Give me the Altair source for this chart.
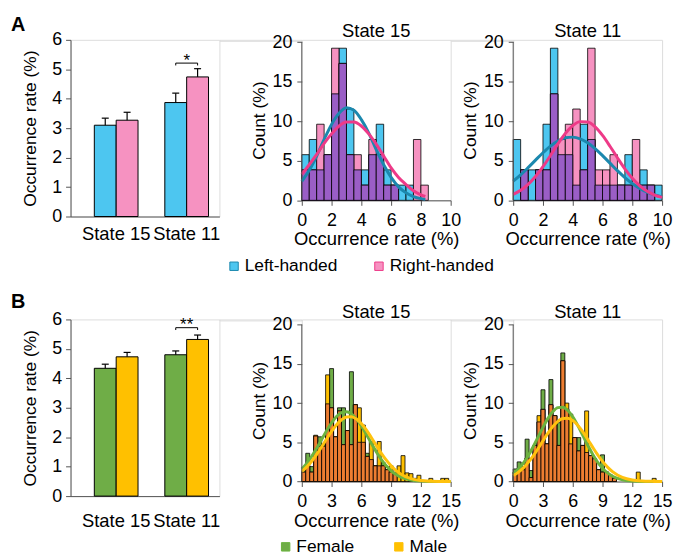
import altair as alt
import pandas as pd
import numpy as np

FONT = "Liberation Sans"

states = ["State 15", "State 11"]
hands = ["Left-handed", "Right-handed"]
sexes = ["Female", "Male"]

# ---------- bar panels ----------
A_left_mean = [3.10, 3.87]
A_left_sem = [0.24, 0.32]
A_right_mean = [3.27, 4.74]
A_right_sem = [0.27, 0.28]

B_female_mean = [4.34, 4.80]
B_female_sem = [0.14, 0.13]
B_male_mean = [4.73, 5.32]
B_male_sem = [0.15, 0.15]

sig_state = ["State 11", "State 11"]
sig_label = ["*", "**"]
sig_low = [5.13, 5.64]
sig_high = [5.21, 5.72]
sig_text_y = [5.29, 5.80]

# ---------- histograms, panel A (bin width 0.5) ----------
A_bin_w = 0.5
A15_starts = [0, 0.5, 1, 1.5, 2, 2.5, 3, 3.5, 4, 4.5, 5, 5.5, 6, 6.5, 7, 7.5, 8]
A15_left = [5.77, 7.69, 3.85, 5.77, 13.46, 19.23, 11.54, 3.85, 3.85, 5.77, 9.62, 3.85, 1.92, 1.92, 1.92, 0, 0]
A15_right = [3.85, 3.85, 9.62, 5.77, 19.23, 17.31, 5.77, 5.77, 1.92, 7.69, 5.77, 1.92, 1.92, 0, 0, 7.69, 1.92]

A11_starts = [0, 0.5, 1, 1.5, 2, 2.5, 3, 3.5, 4, 4.5, 5, 5.5, 6, 6.5, 7, 7.5, 8, 8.5, 9, 9.5]
A11_left = [7.69, 3.85, 3.85, 3.85, 9.62, 19.23, 5.77, 5.77, 1.92, 9.62, 7.69, 1.92, 1.92, 1.92, 1.92, 5.77, 1.92, 3.85, 1.92, 1.92]
A11_right = [0, 3.85, 0, 3.85, 3.85, 13.46, 7.69, 9.62, 11.54, 3.85, 19.23, 3.85, 3.85, 5.77, 1.92, 1.92, 7.69, 1.92, 1.92, 0]

A15_curve_x = [0, 0.5, 1, 1.5, 2, 2.5, 3, 3.5, 4, 4.5, 5, 5.5, 6, 6.5, 7, 7.5, 8, 8.3]
A15_curve_left = [2.4, 3.8, 5.6, 7.7, 9.6, 11.0, 11.7, 11.4, 10.2, 8.5, 6.4, 4.5, 2.9, 1.7, 0.95, 0.48, 0.22, 0.13]
A15_curve_right = [3.3, 4.5, 5.8, 7.2, 8.4, 9.4, 9.9, 9.9, 9.4, 8.4, 7.1, 5.6, 4.1, 2.9, 2.0, 1.2, 0.7, 0.5]

A11_curve_x = [0, 0.5, 1, 1.5, 2, 2.5, 3, 3.5, 4, 4.5, 5, 5.5, 6, 6.5, 7, 7.5, 8, 8.5, 9, 9.5, 10]
A11_curve_left = [2.42, 3.22, 4.13, 5.08, 6.02, 6.86, 7.50, 7.90, 7.99, 7.78, 7.27, 6.54, 5.65, 4.70, 3.75, 2.88, 2.13, 1.51, 1.03, 0.68, 0.43]
A11_curve_right = [0.75, 1.26, 2.01, 3.01, 4.25, 5.67, 7.13, 8.45, 9.44, 9.95, 9.90, 9.28, 8.20, 6.84, 5.38, 3.99, 2.79, 1.84, 1.14, 0.67, 0.37]

# ---------- histograms, panel B (bin width 0.4) ----------
B_bin_w = 0.4
B_starts = [0, 0.4, 0.8, 1.2, 1.6, 2.0, 2.4, 2.8, 3.2, 3.6, 4.0, 4.4, 4.8, 5.2, 5.6, 6.0, 6.4, 6.8, 7.2,
            7.6, 8.0, 8.4, 8.8, 9.2, 9.6, 10.0, 10.4, 10.8, 11.2, 11.6, 12.0, 12.4, 12.8, 13.2, 13.6, 14.0, 14.4]
B15_female = [1.5, 3.6, 1.9, 5.8, 5.7, 4.7, 9.9, 14.4, 5.7, 9.4, 9.4, 6.5, 14.0, 9.8, 5.0, 5.0, 3.6, 2.8, 2.0,
              2.0, 2.4, 1.5, 1.2, 1.0, 0, 0, 0, 0, 0, 0, 0, 0, 0, 0, 0, 0, 0]
B15_male = [1.2, 2.0, 1.2, 5.9, 4.5, 4.5, 13.6, 9.4, 5.7, 9.0, 4.7, 6.5, 4.7, 9.8, 9.4, 7.2, 3.2, 5.1, 2.0,
            5.1, 2.0, 1.5, 2.0, 1.2, 2.0, 3.3, 1.1, 1.0, 0.4, 0.8, 0, 0, 0.4, 0, 0, 0.4, 0.4]
B11_female = [1.6, 2.5, 1.5, 5.4, 1.4, 4.6, 7.6, 11.7, 4.8, 13.0, 8.4, 7.5, 16.4, 9.2, 4.8, 5.6, 5.6, 4.6, 3.7,
              3.3, 2.9, 1.5, 3.4, 1.2, 0.8, 0.4, 0, 0, 0, 0, 0, 0, 0, 0, 0, 0, 0]
B11_male = [1.2, 1.5, 1.9, 3.0, 0.5, 4.6, 8.4, 9.2, 4.8, 9.8, 8.4, 4.6, 15.4, 10.0, 8.6, 5.6, 3.9, 4.6, 9.0,
            3.3, 2.9, 1.5, 1.2, 1.2, 0.8, 0.4, 0, 0, 0, 0, 0, 1.2, 0, 0, 0, 0.4, 0]

B_curve_x = [0, 0.5, 1, 1.5, 2, 2.5, 3, 3.5, 4, 4.5, 5, 5.5, 6, 6.5, 7, 7.5, 8, 8.5, 9, 9.5, 10, 11, 12, 13, 14, 15]
B15_curve_female = [1.60, 2.32, 3.20, 4.23, 5.35, 6.47, 7.48, 8.29, 8.78, 8.89, 8.62, 7.99, 7.09, 6.03, 4.89, 3.80,
                    2.83, 2.01, 1.37, 0.89, 0.55, 0.19, 0.05, 0.01, 0, 0]
B15_curve_male = [1.30, 1.87, 2.59, 3.45, 4.41, 5.42, 6.39, 7.24, 7.88, 8.24, 8.27, 7.98, 7.39, 6.58, 5.62, 4.61,
                  3.63, 2.75, 2.00, 1.40, 0.94, 0.37, 0.13, 0.04, 0.01, 0]
B11_curve_female = [0.99, 1.55, 2.31, 3.26, 4.40, 5.65, 6.91, 8.05, 8.92, 9.42, 9.46, 9.05, 8.25, 7.16, 5.91, 4.65,
                    3.48, 2.48, 1.69, 1.09, 0.67, 0.22, 0.06, 0.01, 0, 0]
B11_curve_male = [0.76, 1.17, 1.71, 2.41, 3.24, 4.19, 5.19, 6.17, 7.03, 7.68, 8.04, 8.07, 7.77, 7.18, 6.35, 5.39,
                  4.39, 3.42, 2.56, 1.84, 1.27, 0.53, 0.19, 0.06, 0.02, 0]

# ---------- colours ----------
A_fill = ["#4DC6F0", "#F692C1"]
A_overlap = "#9A5EC6"
A_curve = ["#1B88AE", "#EE3A88"]
B_fill = ["#6FAD47", "#FFC000"]
B_overlap = "#ED7D31"
B_curve = ["#6CB33F", "#FFC20E"]

AXIS_GREY = "#555555"


def make_legend(lx, ly, colpad):
    return alt.Legend(orient="none", legendX=lx, legendY=ly, direction="horizontal", title=None,
                      symbolType="square", symbolSize=72, symbolStrokeColor="black",
                      symbolStrokeWidth=1, symbolOpacity=1, labelFontSize=17.5, labelFont=FONT,
                      labelColor="black", columnPadding=colpad, labelOffset=2)


def bar_panel(letter, letter_dy, groups, m1, s1, m2, s2, fills, sig_i, xlabpad):
    df = pd.DataFrame({
        "state": states + states,
        "group": [groups[0]] * 2 + [groups[1]] * 2,
        "mean": m1 + m2,
        "sem": s1 + s2,
    })
    df["top"] = df["mean"] + df["sem"]
    ytitle = "Occurrence rate (%)"
    xsc = alt.Scale(domain=states, paddingInner=0.38, paddingOuter=0.246, align=0.686)
    xax = alt.Axis(title=None, labelAngle=0, ticks=False, labelFontSize=18.5, labelPadding=xlabpad,
                   domainColor=AXIS_GREY, labelColor="black", labelFont=FONT, labelOverlap=False)
    yax = alt.Axis(values=[0, 1, 2, 3, 4, 5, 6], tickSize=5, labelFontSize=18, labelPadding=4,
                   titleFontSize=17.5, titlePadding=12, domainColor=AXIS_GREY, tickColor=AXIS_GREY,
                   grid=False, labelColor="black", titleColor="black", labelFont=FONT, titleFont=FONT,
                   titleFontWeight="normal", labelOverlap=False, title=ytitle)
    ysc = alt.Scale(domain=[0, 6], nice=False)
    fsc = alt.Scale(domain=groups, range=fills)

    layers = []
    for gi, g in enumerate(groups):
        sub = df[df["group"] == g]
        b0 = 0.5 * gi
        c = b0 + 0.25
        layers.append(alt.Chart(sub).mark_bar(stroke="black", strokeWidth=1).encode(
            x=alt.X("state:N", sort=states, scale=xsc, axis=xax, bandPosition=b0),
            x2=alt.X2("state", bandPosition=b0 + 0.5),
            y=alt.Y("mean:Q", scale=ysc, axis=yax),
            y2=alt.datum(0),
            fill=alt.Fill("group:N", scale=fsc, legend=None),
        ))
        # upper error bar
        layers.append(alt.Chart(sub).mark_rule(color="black", strokeWidth=1.2).encode(
            x=alt.X("state:N", sort=states, scale=xsc, axis=xax, bandPosition=c),
            y=alt.Y("mean:Q", scale=ysc, axis=yax), y2="top:Q"))
        # cap
        layers.append(alt.Chart(sub).mark_rule(color="black", strokeWidth=1.2).encode(
            x=alt.X("state:N", sort=states, scale=xsc, axis=xax, bandPosition=c - 0.08),
            x2=alt.X2("state", bandPosition=c + 0.08),
            y=alt.Y("top:Q", scale=ysc, axis=yax)))

    sig = pd.DataFrame({"state": [sig_state[sig_i]], "low": [sig_low[sig_i]], "high": [sig_high[sig_i]],
                        "ty": [sig_text_y[sig_i]], "label": [sig_label[sig_i]]})
    sb = alt.Chart(sig)
    layers.append(sb.mark_rule(color="black", strokeWidth=1).encode(
        x=alt.X("state:N", sort=states, scale=xsc, axis=xax, bandPosition=0.25),
        x2=alt.X2("state", bandPosition=0.75),
        y=alt.Y("high:Q", scale=ysc, axis=yax)))
    for bp in (0.25, 0.75):
        layers.append(sb.mark_rule(color="black", strokeWidth=1).encode(
            x=alt.X("state:N", sort=states, scale=xsc, axis=xax, bandPosition=bp),
            y=alt.Y("low:Q", scale=ysc, axis=yax), y2="high:Q"))
    layers.append(sb.mark_text(fontSize=17, font=FONT, baseline="middle", color="black").encode(
        x=alt.X("state:N", sort=states, scale=xsc, axis=xax),
        y=alt.Y("ty:Q", scale=ysc, axis=yax), text="label:N"))

    return alt.layer(*layers).properties(
        width=150, height=178,
        title=alt.TitleParams(letter, anchor="start", frame="group", fontSize=20, fontWeight="bold",
                              font=FONT, dx=-60, dy=letter_dy, color="black"))


def hist_panel(title, title_dy, starts, width, v1, v2, groups, fills, overlap_color, cx, c1, c2,
               curve_colors, xmax, xstep, height, ymax, legend):
    d = pd.DataFrame({"start": starts, "a": v1, "b": v2})
    d["end"] = d["start"] + width
    d["overlap"] = np.minimum(d["a"], d["b"])
    long = pd.concat([
        pd.DataFrame({"start": d["start"], "end": d["end"], "group": groups[0], "pct": d["a"]}),
        pd.DataFrame({"start": d["start"], "end": d["end"], "group": groups[1], "pct": d["b"]}),
    ])
    long = long[long["pct"] > 0]
    ov = d[d["overlap"] > 0]
    xsc = alt.Scale(domain=[0, xmax], nice=False, zero=False)
    ysc = alt.Scale(domain=[0, ymax], nice=False)
    xax = alt.Axis(values=list(range(0, xmax + 1, xstep)), title="Occurrence rate (%)", tickSize=5,
                   labelFontSize=18, titleFontSize=18.5, labelPadding=6, titlePadding=1,
                   domainColor=AXIS_GREY, tickColor=AXIS_GREY, grid=False, labelFlush=False,
                   labelOverlap=False, labelColor="black", titleColor="black", labelFont=FONT,
                   titleFont=FONT, titleFontWeight="normal", format="d")
    yax = alt.Axis(values=[0, 5, 10, 15, 20], title="Count (%)", tickSize=5, labelFontSize=18,
                   titleFontSize=17.5, labelPadding=5, titlePadding=4, domain=False,
                   tickColor=AXIS_GREY, grid=False, labelColor="black", titleColor="black",
                   labelFont=FONT, titleFont=FONT, titleFontWeight="normal", labelOverlap=False)
    bars = alt.Chart(long).mark_bar(stroke="black", strokeWidth=0.8).encode(
        x=alt.X("start:Q", scale=xsc, axis=xax),
        x2="end:Q",
        y=alt.Y("pct:Q", scale=ysc, axis=yax, stack=None),
        y2=alt.datum(0),
        fill=alt.Fill("group:N", sort=groups, scale=alt.Scale(domain=groups, range=fills), legend=legend),
    )
    ovl = alt.Chart(ov).mark_bar(stroke="black", strokeWidth=0.8, fill=overlap_color).encode(
        x=alt.X("start:Q", scale=xsc, axis=xax),
        x2="end:Q",
        y=alt.Y("overlap:Q", scale=ysc, axis=yax, stack=None),
        y2=alt.datum(0),
    )
    cdf = pd.concat([
        pd.DataFrame({"x": cx, "y": c1, "group": groups[0]}),
        pd.DataFrame({"x": cx, "y": c2, "group": groups[1]}),
    ])
    curves = alt.Chart(cdf).mark_line(interpolate="monotone", strokeWidth=3).encode(
        x=alt.X("x:Q", scale=xsc, axis=xax),
        y=alt.Y("y:Q", scale=ysc, axis=yax),
        stroke=alt.Stroke("group:N", sort=groups, scale=alt.Scale(domain=groups, range=curve_colors),
                          legend=None),
    )
    yline = alt.Chart(pd.DataFrame({"lo": [0], "hi": [20]})).mark_rule(color=AXIS_GREY, strokeWidth=1).encode(
        x=alt.X(datum=0, scale=xsc, axis=xax), y=alt.Y("lo:Q", scale=ysc, axis=yax), y2="hi:Q")
    return alt.layer(bars, ovl, curves, yline).properties(
        width=150, height=height,
        title=alt.TitleParams(title, fontSize=18.5, font=FONT, fontWeight="normal", color="black",
                              offset=3, dy=title_dy))


def spacer(w):
    return alt.Chart(pd.DataFrame({"v": [0]})).mark_point(opacity=0).encode(
        x=alt.value(0), y=alt.value(0)).properties(width=w, height=1)


legA = make_legend(-77, 219, 33)
legB = make_legend(-25, 220, 36)

barA = bar_panel("A", 8, hands, A_left_mean, A_left_sem, A_right_mean, A_right_sem, A_fill, 0, 8)
hA15 = hist_panel("State 15", 10, A15_starts, A_bin_w, A15_left, A15_right, hands, A_fill, A_overlap,
                  A15_curve_x, A15_curve_left, A15_curve_right, A_curve, 10, 2, 161.7, 20.29, legA)
hA11 = hist_panel("State 11", 10, A11_starts, A_bin_w, A11_left, A11_right, hands, A_fill, A_overlap,
                  A11_curve_x, A11_curve_left, A11_curve_right, A_curve, 10, 2, 161.7, 20.29, None)

barB = bar_panel("B", 5.7, sexes, B_female_mean, B_female_sem, B_male_mean, B_male_sem, B_fill, 1, 16)
hB15 = hist_panel("State 15", 9, B_starts, B_bin_w, B15_female, B15_male, sexes, B_fill, B_overlap,
                  B_curve_x, B15_curve_female, B15_curve_male, B_curve, 15, 3, 163.3, 20.67, legB)
hB11 = hist_panel("State 11", 9, B_starts, B_bin_w, B11_female, B11_male, sexes, B_fill, B_overlap,
                  B_curve_x, B11_curve_female, B11_curve_male, B_curve, 15, 3, 163.3, 20.67, None)

chart = alt.concat(
    barA, spacer(82.7), hA15, spacer(63), hA11,
    barB, spacer(82.7), hB15, spacer(63), hB11,
    columns=5, spacing={"row": 103.7, "column": 0}, bounds="flush", align="each",
).resolve_scale(
    fill="independent", stroke="independent", x="independent", y="independent"
).properties(
    padding={"left": 2, "top": 4, "right": 0, "bottom": 0}
).configure_view(stroke=None).configure_axis(labelOverlap=False).configure(background="white")

chart.save("out.html", embed_options={"renderer": "svg", "actions": False})
